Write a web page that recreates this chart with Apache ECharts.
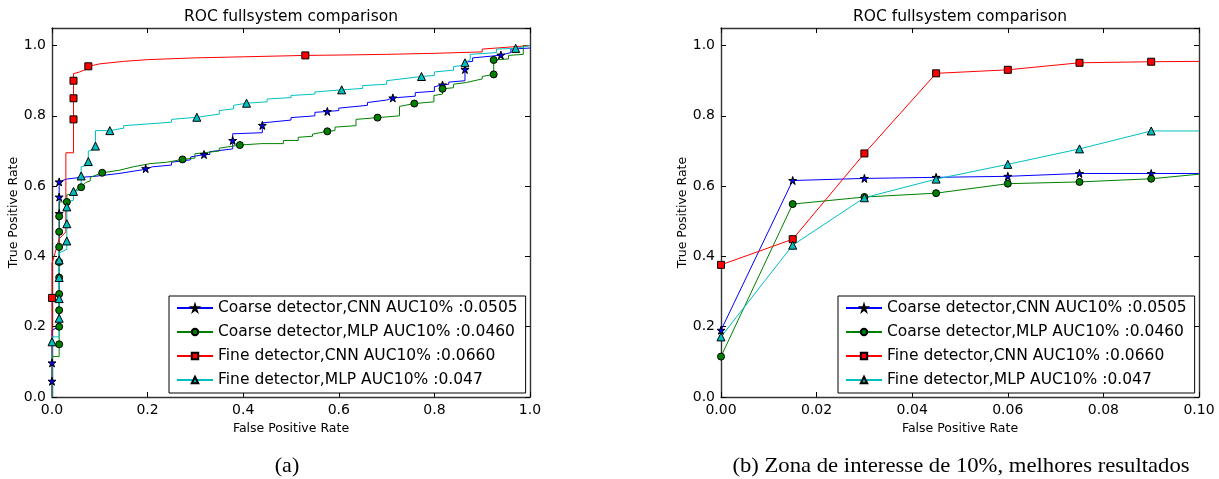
<!DOCTYPE html>
<html>
<head>
<meta charset="utf-8">
<script src="https://cdn.jsdelivr.net/npm/echarts@6/dist/echarts.min.js"></script>
<style>
  html, body { margin: 0; padding: 0; background: #fff; }
  #chart { width: 1219px; height: 479px; }
</style>
</head>
<body>
<div id="chart"></div>
<script>
// names of the 4 curves
var seriesNames = [
  'Coarse detector,CNN AUC10% :0.0505',
  'Coarse detector,MLP AUC10% :0.0460',
  'Fine detector,CNN AUC10% :0.0660',
  'Fine detector,MLP AUC10% :0.047'
];

// (a) full ROC curves: [fpr, tpr] step points
var coarseCnnLine = [[0,0],[0,0.19],[0.015,0.2],[0.015,0.615],[0.03,0.62],[0.06,0.625],[0.09,0.628],[0.09,0.632],[0.14,0.636],[0.14,0.641],[0.196,0.648],[0.21,0.655],[0.25,0.66],[0.25,0.668],[0.29,0.675],[0.29,0.683],[0.33,0.69],[0.33,0.698],[0.378,0.706],[0.378,0.749],[0.44,0.752],[0.44,0.78],[0.5,0.788],[0.5,0.795],[0.55,0.8],[0.55,0.81],[0.6,0.815],[0.6,0.822],[0.66,0.83],[0.66,0.838],[0.7,0.845],[0.7,0.85],[0.76,0.856],[0.76,0.866],[0.8,0.87],[0.8,0.883],[0.83,0.89],[0.83,0.896],[0.864,0.9],[0.864,0.953],[0.88,0.955],[0.88,0.965],[0.92,0.97],[0.92,0.973],[0.96,0.98],[0.96,0.99],[1,0.993]];
var coarseCnnMarks = [[0,0.045],[0,0.097],[0.015,0.522],[0.015,0.569],[0.015,0.612],[0.196,0.65],[0.318,0.69],[0.378,0.73],[0.44,0.773],[0.576,0.8125],[0.713,0.851],[0.817,0.888],[0.864,0.932],[0.939,0.973]];

var coarseMlpLine = [[0,0],[0,0.115],[0.015,0.115],[0.015,0.555],[0.031,0.555],[0.031,0.575],[0.05,0.58],[0.05,0.59],[0.061,0.597],[0.07,0.61],[0.08,0.615],[0.08,0.625],[0.105,0.638],[0.14,0.645],[0.14,0.65],[0.17,0.655],[0.17,0.66],[0.205,0.664],[0.24,0.668],[0.24,0.672],[0.299,0.68],[0.299,0.692],[0.35,0.7],[0.35,0.708],[0.393,0.717],[0.439,0.721],[0.484,0.721],[0.484,0.73],[0.515,0.73],[0.515,0.739],[0.545,0.742],[0.545,0.748],[0.576,0.756],[0.592,0.758],[0.592,0.768],[0.636,0.772],[0.636,0.79],[0.681,0.795],[0.727,0.8],[0.727,0.827],[0.758,0.835],[0.799,0.84],[0.799,0.858],[0.817,0.862],[0.817,0.877],[0.84,0.88],[0.84,0.89],[0.867,0.895],[0.867,0.9],[0.9,0.905],[0.9,0.912],[0.924,0.918],[0.924,0.959],[0.955,0.962],[0.955,0.972],[0.986,0.975],[0.986,1.0],[1,1.0]];
var coarseMlpMarks = [[0.015,0.15],[0.015,0.2],[0.015,0.247],[0.015,0.293],[0.015,0.34],[0.015,0.384],[0.015,0.427],[0.015,0.47],[0.015,0.514],[0.031,0.555],[0.061,0.597],[0.105,0.638],[0.273,0.676],[0.393,0.717],[0.576,0.756],[0.681,0.795],[0.758,0.835],[0.817,0.877],[0.924,0.918],[0.924,0.959]];

var fineCnnLine = [[0,0],[0,0.38],[0.015,0.45],[0.029,0.47],[0.029,0.695],[0.045,0.695],[0.045,0.92],[0.058,0.925],[0.058,0.93],[0.076,0.935],[0.076,0.941],[0.1,0.948],[0.15,0.955],[0.2,0.96],[0.3,0.965],[0.4,0.968],[0.6,0.973],[0.7,0.975],[0.8,0.978],[0.9,0.982],[0.9,0.99],[0.95,0.995],[1,1.0]];
var fineCnnMarks = [[0,0.282],[0.045,0.79],[0.045,0.85],[0.045,0.9],[0.076,0.941],[0.53,0.972]];

var fineMlpLine = [[0,0],[0,0.171],[0.015,0.171],[0.015,0.41],[0.031,0.42],[0.031,0.555],[0.045,0.56],[0.045,0.585],[0.061,0.59],[0.061,0.655],[0.076,0.66],[0.076,0.7],[0.091,0.705],[0.091,0.758],[0.121,0.758],[0.15,0.765],[0.15,0.772],[0.2,0.777],[0.25,0.782],[0.25,0.79],[0.35,0.805],[0.35,0.815],[0.38,0.82],[0.38,0.83],[0.45,0.84],[0.45,0.848],[0.5,0.852],[0.5,0.858],[0.55,0.862],[0.55,0.868],[0.65,0.878],[0.65,0.886],[0.7,0.89],[0.7,0.9],[0.8,0.915],[0.8,0.925],[0.84,0.93],[0.84,0.94],[0.864,0.945],[0.864,0.955],[0.875,0.96],[0.875,0.975],[0.93,0.98],[0.93,0.99],[1,1.0]];
var fineMlpMarks = [[0,0.157],[0.015,0.224],[0.015,0.28],[0.015,0.34],[0.015,0.39],[0.031,0.444],[0.031,0.493],[0.031,0.541],[0.045,0.585],[0.061,0.629],[0.076,0.67],[0.091,0.714],[0.121,0.758],[0.303,0.796],[0.407,0.836],[0.606,0.874],[0.773,0.912],[0.864,0.951],[0.97,0.992]];

// (b) zoom on the first 10% of FPR
var zoomFpr = [0, 0.015, 0.03, 0.045, 0.06, 0.075, 0.09, 0.1];
var zoomCoarseCnn = [0.19, 0.616, 0.622, 0.625, 0.628, 0.636, 0.636, 0.636];
var zoomCoarseMlp = [0.115, 0.549, 0.569, 0.58, 0.607, 0.612, 0.621, 0.634];
var zoomFineCnn = [0.376, 0.449, 0.693, 0.921, 0.931, 0.951, 0.954, 0.955];
var zoomFineMlp = [0.171, 0.432, 0.567, 0.62, 0.662, 0.706, 0.757, 0.757];

var colors = ['#0000ff', '#008000', '#ff0000', '#00bfbf'];
var STAR = 'path://M50,0 L61.17,34.63 L97.55,34.55 L68.07,55.87 L79.39,90.45 L50,69 L20.61,90.45 L31.93,55.87 L2.45,34.55 L38.83,34.63 Z';
var symbols = [STAR, 'circle', 'rect', 'triangle'];
var symbolSizes = [8, 7, 7, 8];

// line points without symbol + marker points, sorted along the curve
function mergeCurve(line, marks) {
  var pts = [];
  for (var i = 0; i < line.length; i++) pts.push({ value: line[i], symbol: 'none' });
  for (var j = 0; j < marks.length; j++) pts.push({ value: marks[j] });
  pts.sort(function (a, b) { return (a.value[0] - b.value[0]) || (a.value[1] - b.value[1]); });
  return pts;
}
function zoomCurve(vals) {
  var pts = [];
  for (var i = 0; i < zoomFpr.length; i++) {
    if (i == zoomFpr.length - 1) pts.push({ value: [zoomFpr[i], vals[i]], symbol: 'none' });
    else pts.push([zoomFpr[i], vals[i]]);
  }
  return pts;
}

var fullData = [
  mergeCurve(coarseCnnLine, coarseCnnMarks),
  mergeCurve(coarseMlpLine, coarseMlpMarks),
  mergeCurve(fineCnnLine, fineCnnMarks),
  mergeCurve(fineMlpLine, fineMlpMarks)
];
var zoomData = [zoomCurve(zoomCoarseCnn), zoomCurve(zoomCoarseMlp), zoomCurve(zoomFineCnn), zoomCurve(zoomFineMlp)];

var FONT = 'DejaVu Sans';
var AXIS_COLOR = '#333';

function xAx(grid, max, interval, digits, top) {
  return {
    type: 'value', gridIndex: grid, min: 0, max: max, interval: interval,
    position: top ? 'top' : 'bottom',
    axisLine: { show: true, onZero: false, lineStyle: { color: AXIS_COLOR, width: 1.4 } },
    axisTick: { show: true, inside: true, length: 5, lineStyle: { color: '#000', width: 1 } },
    axisLabel: { show: !top, margin: 6, color: '#000', fontSize: 14, fontFamily: FONT,
      formatter: function (v) { return v.toFixed(digits); } },
    splitLine: { show: false },
    name: top ? '' : 'False Positive Rate', nameLocation: 'middle', nameGap: 23,
    nameTextStyle: { color: '#000', fontSize: 12.5, fontFamily: FONT }
  };
}
function yAx(grid, right) {
  return {
    type: 'value', gridIndex: grid, min: 0, max: 1.05, interval: 0.2,
    position: right ? 'right' : 'left',
    axisLine: { show: true, onZero: false, lineStyle: { color: AXIS_COLOR, width: 1.4 } },
    axisTick: { show: true, inside: true, length: 5, lineStyle: { color: '#000', width: 1 } },
    axisLabel: { show: !right, margin: 6, color: '#000', fontSize: 14, fontFamily: FONT, showMaxLabel: false,
      formatter: function (v) { return v.toFixed(1); } },
    splitLine: { show: false },
    name: right ? '' : 'True Positive Rate', nameLocation: 'middle', nameGap: 32, nameRotate: 90,
    nameTextStyle: { color: '#000', fontSize: 12.5, fontFamily: FONT }
  };
}

var series = [];
function addSeries(datas, xi, yi) {
  for (var k = 0; k < 4; k++) {
    series.push({
      name: seriesNames[k], type: 'line', xAxisIndex: xi, yAxisIndex: yi,
      data: datas[k], symbol: symbols[k], symbolSize: symbolSizes[k],
      showSymbol: true, showAllSymbol: true, clip: true,
      lineStyle: { color: colors[k], width: 1 },
      itemStyle: { color: colors[k], borderColor: '#000', borderWidth: 1 },
      emphasis: { disabled: true }
    });
  }
}
addSeries(fullData, 0, 0);
addSeries(zoomData, 2, 2);

function legendAt(left) {
  return {
    orient: 'vertical', left: left, top: 296, data: seriesNames,
    itemWidth: 36, itemHeight: 8, itemGap: 8, padding: [4, 8, 5, 7],
    backgroundColor: '#fff', borderColor: '#000', borderWidth: 1, borderRadius: 0,
    textStyle: { color: '#000', fontSize: 15.5, fontFamily: FONT },
    selectedMode: false
  };
}

function label(x, y, text, size, family, sx) {
  return { type: 'text', x: x, y: y, z: 100, scaleX: sx || 1,
    style: { text: text, align: 'center', verticalAlign: 'middle', fill: '#000',
      font: size + 'px "' + family + '"' } };
}

var chart = echarts.init(document.getElementById('chart'));
chart.setOption({
  animation: false,
  backgroundColor: '#fff',
  grid: [
    { left: 52, right: 689, top: 28, bottom: 82 },
    { left: 721, right: 20, top: 28, bottom: 82 }
  ],
  xAxis: [xAx(0, 1, 0.2, 1, false), xAx(0, 1, 0.2, 1, true), xAx(1, 0.1, 0.02, 2, false), xAx(1, 0.1, 0.02, 2, true)],
  yAxis: [yAx(0, false), yAx(0, true), yAx(1, false), yAx(1, true)],
  legend: [legendAt(169), legendAt(838)],
  series: series,
  graphic: [
    label(291, 17, 'ROC fullsystem comparison', 15.5, FONT),
    label(960, 17, 'ROC fullsystem comparison', 15.5, FONT),
    label(287, 466, '(a)', 21, 'Liberation Serif', 1.05),
    label(961, 466, '(b) Zona de interesse de 10%, melhores resultados', 21, 'Liberation Serif', 1.08)
  ]
});
</script>
</body>
</html>
